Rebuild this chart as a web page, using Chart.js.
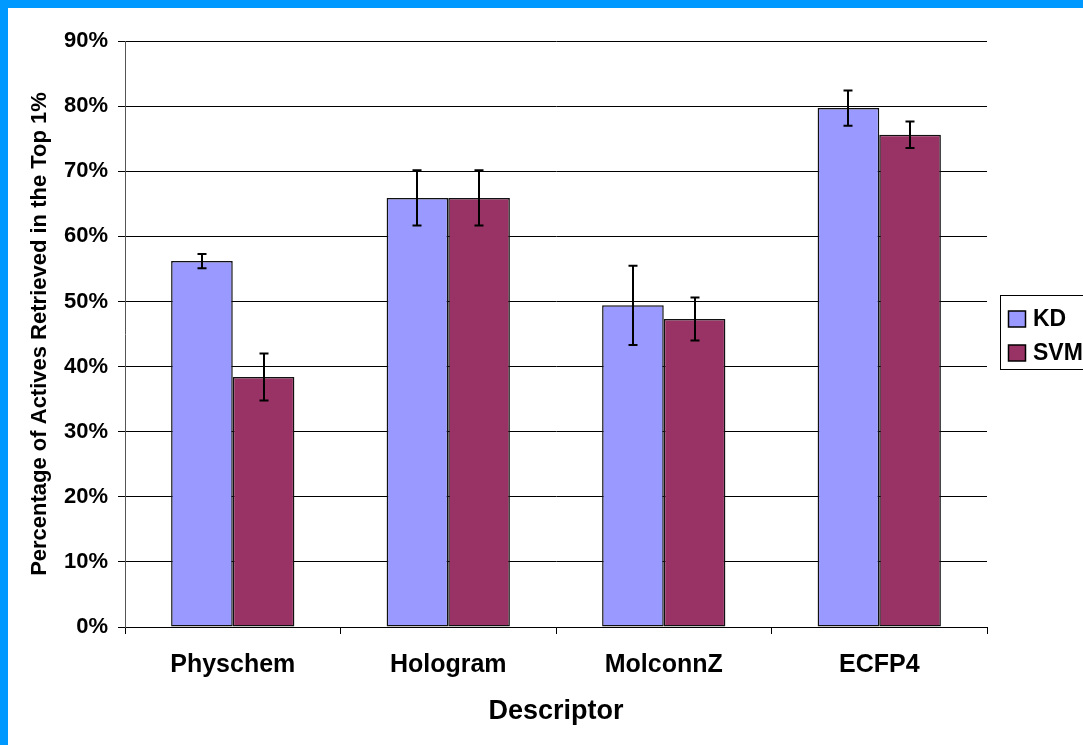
<!DOCTYPE html>
<html>
<head>
<meta charset="utf-8">
<script src="https://cdn.jsdelivr.net/npm/chart.js@4.4.1/dist/chart.umd.min.js"></script>
<style>
  html, body { margin: 0; padding: 0; background: #0099FF; width: 1083px; height: 745px; overflow: hidden; }
  #wrap { position: absolute; left: 8px; top: 8px; width: 1075px; height: 737px; background: #ffffff; }
  canvas { display: block; }
</style>
</head>
<body>
<div id="wrap"><canvas id="c" width="1075" height="737"></canvas></div>
<script>
const categories = ['Physchem', 'Hologram', 'MolconnZ', 'ECFP4'];
const kdValues = [56.2, 65.9, 49.4, 79.7];
const kdErrors = [1.1, 4.25, 6.1, 2.7];
const svmValues = [38.4, 65.9, 47.3, 75.6];
const svmErrors = [3.6, 4.25, 3.3, 2.05];
const yTickMax = 90;
const yTickStep = 10;
const xTitle = 'Descriptor';
const yTitle = 'Percentage of Actives Retrieved in the Top 1%';

const FONT = 'Arial, "Liberation Sans", sans-serif';

const errorBarPlugin = {
  id: 'errorBars',
  afterDatasetsDraw(chart) {
    const ctx = chart.ctx;
    const yScale = chart.scales.y;
    chart.data.datasets.forEach((ds, di) => {
      const meta = chart.getDatasetMeta(di);
      meta.data.forEach((bar, i) => {
        const v = ds.data[i];
        const e = ds.errors[i];
        const yT = yScale.getPixelForValue(v + e);
        const yB = yScale.getPixelForValue(v - e);
        const x = Math.round(bar.x);
        ctx.save();
        ctx.strokeStyle = '#000';
        ctx.lineWidth = 2;
        ctx.beginPath();
        ctx.moveTo(x, yT); ctx.lineTo(x, yB);
        ctx.moveTo(x - 4.5, yT); ctx.lineTo(x + 4.5, yT);
        ctx.moveTo(x - 4.5, yB); ctx.lineTo(x + 4.5, yB);
        ctx.stroke();
        ctx.restore();
      });
    });
  }
};

const legendPlugin = {
  id: 'customLegend',
  afterDraw(chart) {
    const ctx = chart.ctx;
    const bx = 992.5, by = 287.5, bw = 120, bh = 74;
    ctx.save();
    ctx.fillStyle = '#fff';
    ctx.fillRect(bx, by, bw, bh);
    ctx.strokeStyle = '#000';
    ctx.lineWidth = 1;
    ctx.strokeRect(bx, by, bw, bh);
    ctx.font = 'bold 23px ' + FONT;
    ctx.textBaseline = 'middle';
    chart.data.datasets.forEach((ds, i) => {
      const cy = 311 + i * 34;
      ctx.fillStyle = ds.backgroundColor;
      ctx.fillRect(1000.5, cy - 8, 17, 16);
      ctx.strokeStyle = '#000';
      ctx.lineWidth = 1.5;
      ctx.strokeRect(1000.5, cy - 8, 17, 16);
      ctx.fillStyle = '#000';
      ctx.fillText(ds.label, 1025, cy + 1);
    });
    ctx.restore();
  }
};

new Chart(document.getElementById('c'), {
  type: 'bar',
  data: {
    labels: categories,
    datasets: [
      { label: 'KD', data: kdValues, errors: kdErrors, backgroundColor: '#9999FF', borderColor: '#111', borderWidth: 1.5, borderSkipped: false },
      { label: 'SVM', data: svmValues, errors: svmErrors, backgroundColor: '#993366', borderColor: '#111', borderWidth: 1.5, borderSkipped: false }
    ]
  },
  options: {
    responsive: false,
    animation: false,
    datasets: { bar: { barPercentage: 1.0, categoryPercentage: 0.572 } },
    layout: { padding: { top: 33, right: 96, left: 0, bottom: 0 } },
    plugins: { legend: { display: false }, tooltip: { enabled: false } },
    scales: {
      x: {
        grid: { offset: true, drawOnChartArea: false, drawTicks: true, tickLength: 7, color: '#000' },
        border: { display: true, color: '#000', width: 1 },
        ticks: { color: '#000', font: { family: FONT, size: 25, weight: 'bold' }, padding: 16, maxRotation: 0 },
        title: { display: true, text: xTitle, color: '#000', font: { family: FONT, size: 27, weight: 'bold' }, padding: { top: 0, bottom: 17 } },
        afterFit(s) { s.height = 118; }
      },
      y: {
        min: 0, max: yTickMax,
        grid: { color: '#000', lineWidth: 1, tickLength: 7, drawTicks: true },
        border: { display: true, color: '#555', width: 1 },
        ticks: { stepSize: yTickStep, color: '#000', font: { family: FONT, size: 22, weight: 'bold' }, padding: 10, callback: v => v + '%' },
        title: { display: true, text: yTitle, color: '#000', font: { family: FONT, size: 22, weight: 'bold' }, padding: { top: 19, bottom: 0 } },
        afterFit(s) { s.width = 117; }
      }
    }
  },
  plugins: [errorBarPlugin, legendPlugin]
});
</script>
</body>
</html>
